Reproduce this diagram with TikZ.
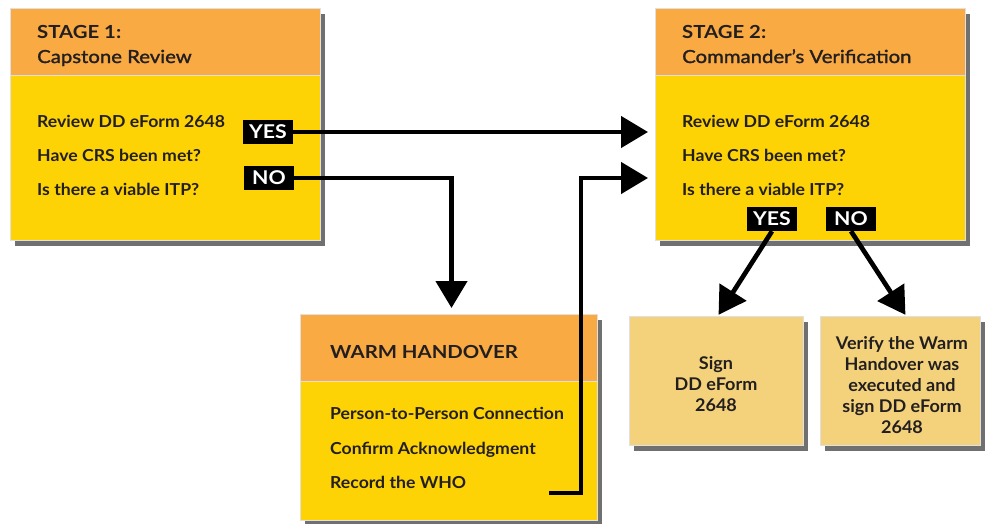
\documentclass[tikz,border=0pt]{standalone}
\usepackage{fontspec}
\setmainfont{Lato}
\newfontfamily\ttlfont{Lato}[FakeStretch=1.13]
\newfontfamily\subfont{Lato}[FakeStretch=1.13, FakeBold=1.5]
\newfontfamily\itemfont{Lato}[FakeStretch=1.07]
\newfontfamily\lbxfont{Lato}[FakeStretch=1.03]
\newfontfamily\tagfont{Lato}[FakeStretch=1.12]
\usetikzlibrary{arrows.meta,shadows,calc}
\definecolor{hdr}{HTML}{F9AA42}
\definecolor{ylw}{HTML}{FDD306}
\definecolor{lbox}{HTML}{F3D27B}
\definecolor{txt}{HTML}{231F20}
\tikzset{
  boxbase/.style={rectangle, inner sep=0pt, outer sep=0pt, anchor=north west, draw=black!12, line width=0.6pt},
  shad/.style={drop shadow={shadow xshift=5pt, shadow yshift=-6pt, fill=black!62, opacity=0.9}},
  ybox/.style={boxbase, shad, fill=ylw},
  hbox/.style={boxbase, fill=hdr},
  lbx/.style={rectangle, inner sep=0pt, draw=black!12, line width=0.6pt, fill=lbox, shad},
  lbxtext/.style={inner sep=0pt, text=txt, align=center, font=\lbxfont\bfseries\fontsize{17.5}{21}\selectfont},
  ttl/.style={anchor=base west, inner sep=0pt, text=txt, font=\ttlfont\bfseries\fontsize{18}{20}\selectfont},
  sub/.style={anchor=base west, inner sep=0pt, text=txt, font=\subfont\fontsize{18}{20}\selectfont},
  item/.style={anchor=base west, inner sep=0pt, text=txt, font=\itemfont\bfseries\fontsize{16.5}{20}\selectfont},
  tag/.style={rectangle, fill=black, text=white, inner sep=0pt, minimum width=50pt, minimum height=24pt, font=\tagfont\bfseries\fontsize{19}{20}\selectfont},
  arr/.style={line width=4.7pt, draw=black, -{Triangle[length=27pt,width=31pt]}},
}
\begin{document}
\begin{tikzpicture}[x=1pt,y=-1pt]
\useasboundingbox (0,0) rectangle (986,523);
% Stage 1
\node[ybox, minimum width=310pt, minimum height=232pt] (s1) at (10,8) {};
\node[hbox, minimum width=310pt, minimum height=67pt] (s1h) at (10,8) {};
\node[ttl] (s1t) at (37,38) {STAGE 1:};
\node[sub] (s1s) at (37,63) {Capstone Review};
\node[item] (s1a) at (37,127) {Review DD eForm 2648};
\node[item] (s1b) at (37,161) {Have CRS been met?};
\node[item] (s1c) at (37,195) {Is there a viable ITP?};
% Stage 2
\node[ybox, minimum width=310pt, minimum height=232pt] (s2) at (655,8) {};
\node[hbox, minimum width=310pt, minimum height=67pt] (s2h) at (655,8) {};
\node[ttl] (s2t) at (682,38) {STAGE 2:};
\node[sub] (s2s) at (682,63) {Commander’s Verification};
\node[item] (s2a) at (682,127) {Review DD eForm 2648};
\node[item] (s2b) at (682,161) {Have CRS been met?};
\node[item] (s2c) at (682,195) {Is there a viable ITP?};
% Warm handover
\node[ybox, minimum width=297pt, minimum height=206pt] (wh) at (300,314) {};
\node[hbox, minimum width=297pt, minimum height=67pt] (whh) at (300,314) {};
\node[ttl] (wht) at (330,358) {WARM HANDOVER};
\node[item] (wha) at (330,419) {Person-to-Person Connection};
\node[item] (whb) at (330,454) {Confirm Acknowledgment};
\node[item] (whc) at (330,488) {Record the WHO};
% result boxes
\node[lbx, minimum width=174pt, minimum height=129pt] (sign) at (716,380.5) {};
\node[lbxtext] (signt) at (716,384) {Sign\\DD eForm\\2648};
\node[lbx, minimum width=160pt, minimum height=129pt] (vf) at (900,380.5) {};
\node[lbxtext] (vft) at (902,385) {Verify the Warm\\Handover was\\executed and\\sign DD eForm\\2648};
% tags
\node[tag] (y1) at (268,132) {YES};
\node[tag] (n1) at (269,178) {NO};
\node[tag] (y2) at (772,219) {YES};
\node[tag] (n2) at (851,219) {NO};
\coordinate (r0) at (549,493);
% connectors
\draw[arr, shorten >=7pt] (y1.east) -- (y1.east -| s2.west);
\draw[arr, shorten >=6pt] (n1.east) -| ([xshift=3pt]wh.north);
\draw[arr, shorten >=7pt] (r0) -- ++(32,0) |- (n1.east -| s2.west);
\draw[arr, shorten >=1pt] (y2.south) -- ([xshift=2pt]sign.north);
\draw[arr, shorten >=1pt] (n2.south) -- ([xshift=6pt]vf.north);
\end{tikzpicture}
\end{document}
